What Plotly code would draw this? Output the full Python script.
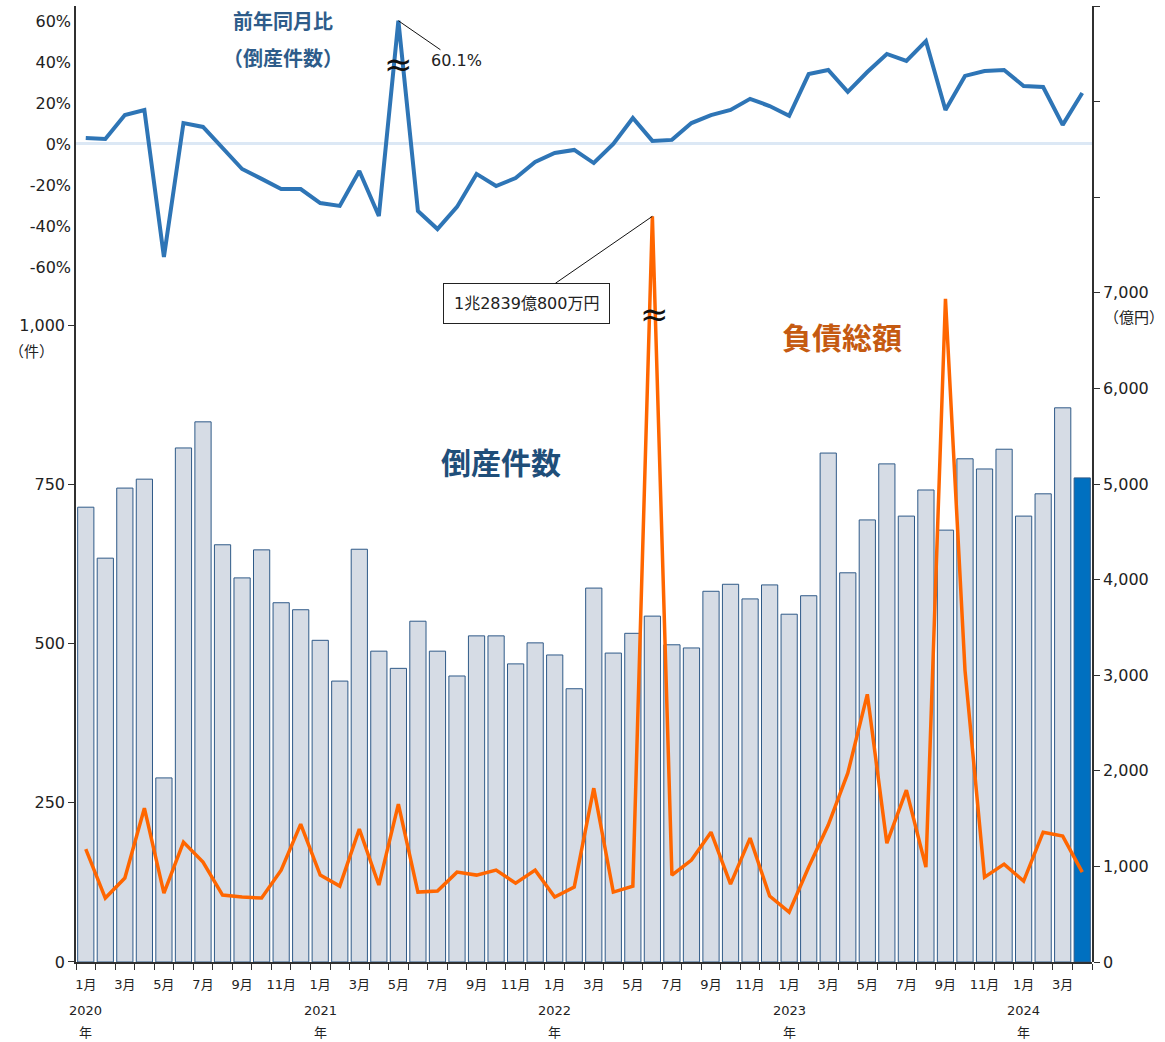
import plotly.graph_objects as go

# ---------------- data ----------------
months = []
month_labels = []
for yr in range(2020, 2025):
    for m in range(1, 13):
        if yr == 2024 and m > 4:
            break
        months.append(f"{yr}年{m}月")
        month_labels.append(f"{m}月" if m % 2 == 1 else "")

year_labels = ["2020", "2021", "2022", "2023", "2024"]

# 倒産件数 (件)
counts = [714, 634, 744, 758, 289, 807, 848, 655, 603, 647, 564, 553,
          505, 441, 648, 488, 461, 535, 488, 449, 512, 512, 468, 501,
          482, 429, 587, 485, 516, 543, 498, 493, 582, 593, 570, 592,
          546, 575, 799, 611, 694, 782, 700, 741, 678, 790, 774, 805,
          700, 735, 870, 760]

# 前年同月比 (%)
yoy = [2.9, 2.4, 14.1, 16.6, -55.1, 10.2, 8.3, -2.0, -12.2, -17.0, -22.0, -22.0,
       -28.8, -30.2, -13.2, -35.1, 60.1, -32.7, -41.5, -30.7, -14.6, -20.5, -16.6, -8.8,
       -4.4, -2.9, -9.3, 0.0, 12.7, 1.5, 2.0, 10.2, 14.1, 16.6, 22.0, 18.5,
       13.7, 34.1, 36.1, 25.4, 35.1, 43.9, 40.5, 50.2, 16.6, 33.2, 35.6, 36.1,
       28.3, 27.8, 9.3, 24.9]

# 負債総額 (億円)  June 2022 = 1兆2839億800万円
debt = [1181, 669, 878, 1609, 721, 1254, 1045, 700, 679, 669, 961, 1442,
        909, 794, 1390, 805, 1651, 731, 742, 940, 909, 961, 825, 961,
        679, 784, 1818, 731, 794, 12839, 909, 1066, 1358, 815, 1296, 690,
        522, 993, 1432, 1975, 2800, 1243, 1797, 993, 6938, 3051, 888, 1024,
        846, 1358, 1317, 940]
debt_axis_cap = 7800  # value drawn at the axis break
debt_plot = [min(v, debt_axis_cap) for v in debt]

FONT = "DejaVu Sans, Noto Sans CJK JP, sans-serif"
JP = "Noto Sans CJK JP, sans-serif"
n = len(months)

bar_colors = ["#d6dce5"] * (n - 1) + ["#0070c0"]

fig = go.Figure()
fig.add_trace(go.Bar(x=months, y=counts, marker=dict(color=bar_colors,
              line=dict(color="#2f5a88", width=1)), xaxis="x", yaxis="y"))
fig.add_trace(go.Scatter(x=months, y=debt_plot, mode="lines",
              line=dict(color="#ff6600", width=3.5), xaxis="x", yaxis="y2"))
fig.add_trace(go.Scatter(x=months, y=yoy, mode="lines",
              line=dict(color="#2e75b6", width=4), xaxis="x", yaxis="y3"))

split = 0.6663
axcol = "#303030"
fig.update_layout(
    width=1165, height=1042,
    margin=dict(l=76, r=73, t=6, b=80),
    paper_bgcolor="white", plot_bgcolor="rgba(0,0,0,0)",
    showlegend=False, bargap=0.17,
    font=dict(family=FONT, size=16, color="#222"),
    xaxis=dict(type="category", range=[-0.5, n - 0.5], tickmode="array",
               tickvals=months, ticktext=month_labels, tickson="boundaries",
               ticks="outside", ticklen=6, tickangle=0, automargin=False,
               ticklabelstandoff=10,
               tickcolor=axcol, showline=True, linecolor=axcol, linewidth=1.5,
               showgrid=False, zeroline=False, anchor="y",
               tickfont=dict(size=13, family=FONT)),
    yaxis=dict(domain=[0, split], range=[0, 1000], tickvals=[0, 250, 500, 750, 1000],
               tickformat=",", ticks="outside", ticklen=6, tickcolor=axcol,
               showline=True, linecolor=axcol, linewidth=1.5, automargin=False,
               showgrid=False, zeroline=False, anchor="x"),
    yaxis2=dict(domain=[0, 1], range=[0, 10000], side="right", anchor="x",
                tickvals=list(range(0, 10001, 1000)),
                ticktext=[f"{v:,}" if v <= 7000 else "" for v in range(0, 10001, 1000)],
                ticks="outside", ticklen=6, tickcolor=axcol, automargin=False,
                showline=True, linecolor=axcol, linewidth=1.5,
                showgrid=False, zeroline=False),
    yaxis3=dict(domain=[split, 1], range=[-88.3, 67.3], anchor="x",
                tickvals=[-60, -40, -20, 0, 20, 40, 60],
                ticktext=["-60%", "-40%", "-20%", "0%", "20%", "40%", "60%"],
                ticks="", showline=True, linecolor=axcol, linewidth=1.5,
                automargin=False,
                showgrid=False, zeroline=True, zerolinecolor="#dce8f5",
                zerolinewidth=3),
)

ann = []
# year labels
for k, yl in enumerate(year_labels):
    ann.append(dict(x=months[12 * k], y=0, xref="x", yref="paper", text=yl,
                    showarrow=False, xanchor="center", yanchor="middle", yshift=-48,
                    font=dict(size=13, family=FONT, color="#222")))
    ann.append(dict(x=months[12 * k], y=0, xref="x", yref="paper", text="年",
                    showarrow=False, xanchor="center", yanchor="middle", yshift=-70,
                    font=dict(size=13, family=FONT, color="#222")))
# unit labels
ann.append(dict(x=0, y=1000, xref="paper", yref="y", text="（件）", showarrow=False,
                xanchor="right", yanchor="middle", xshift=-20, yshift=-25,
                font=dict(size=15, family=JP, color="#222")))
ann.append(dict(x=1, y=7000, xref="paper", yref="y2", text="（億円）", showarrow=False,
                xanchor="left", yanchor="middle", xshift=10, yshift=-24,
                font=dict(size=15, family=JP, color="#222")))
# series titles
def title(x, y, text, size, color):
    ann.append(dict(x=x, y=y, xref="paper", yref="paper", text=f"<b>{text}</b>",
                    showarrow=False, xanchor="center", yanchor="middle",
                    font=dict(size=size, family=JP, color=color)))

title(0.204, 0.9853, "前年同月比", 20, "#2e5c8a")
title(0.204, 0.9466, "（倒産件数）", 20, "#2e5c8a")
title(0.418, 0.5245, "倒産件数", 30, "#1f4e79")
title(0.754, 0.6545, "負債総額", 30, "#c55a11")

# value callouts
i60 = yoy.index(max(yoy))
ann.append(dict(x=months[i60], y=yoy[i60], xref="x", yref="y3", text=f"{yoy[i60]}%",
                showarrow=True, arrowhead=0, arrowwidth=1, arrowcolor="#111",
                ax=58, ay=40, font=dict(size=16, family=FONT, color="#222")))
imax = debt.index(max(debt))
ann.append(dict(x=months[imax], y=debt_plot[imax], xref="x", yref="y2",
                text="1兆2839億800万円", showarrow=True, arrowhead=0, arrowwidth=1,
                arrowcolor="#111", ax=-126, ay=87, bordercolor="#222", borderwidth=1,
                borderpad=10, bgcolor="white",
                font=dict(size=16, family=FONT, color="#222")))
# axis break marks
ann.append(dict(x=months[i60], y=yoy[i60], xref="x", yref="y3", text="≈", showarrow=False,
                yshift=-43, font=dict(size=34, family=FONT, color="#111")))
ann.append(dict(x=months[imax], y=debt_plot[imax], xref="x", yref="y2", text="≈",
                showarrow=False, yshift=-98, xshift=2,
                font=dict(size=34, family=FONT, color="#111")))

fig.update_layout(annotations=ann)
fig.write_html("out.html", config={"displayModeBar": False},
               post_script="document.body.style.margin='0px';document.body.style.overflow='hidden';")
